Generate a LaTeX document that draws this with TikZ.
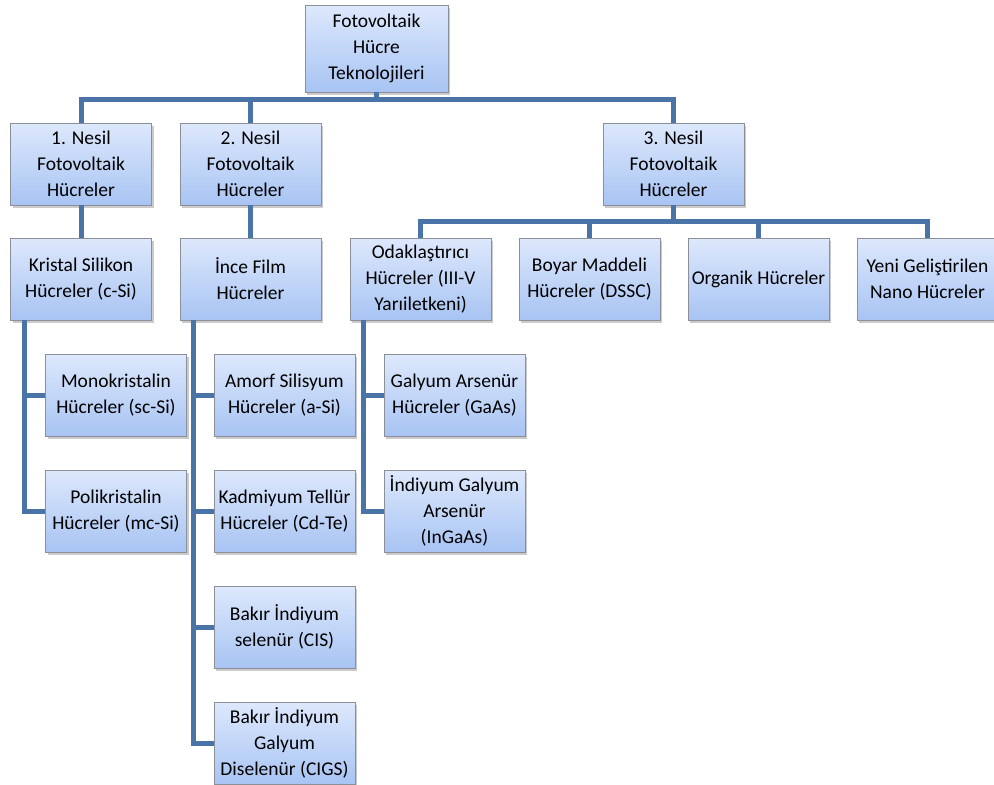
\documentclass[tikz,border=0pt]{standalone}
\usepackage{fontspec}
\setmainfont{Carlito}
\usetikzlibrary{shadows,calc}
\definecolor{linec}{HTML}{4A74A8}
\definecolor{boxtop}{HTML}{DDE8FC}
\definecolor{boxbot}{HTML}{A8C4F3}
\definecolor{boxbd}{HTML}{8A8F98}
\begin{document}
\begin{tikzpicture}[x=1pt,y=-1pt,
  box/.style={draw=boxbd, line width=0.8pt, top color=boxtop, bottom color=boxbot,
    minimum width=141pt, minimum height=82pt, inner sep=1pt, align=center,
    font=\fontsize{19.5}{26}\selectfont,
    drop shadow={opacity=0.35, shadow xshift=2pt, shadow yshift=-3pt, fill=black!60}},
  conn/.style={draw=linec, line width=5pt}]
\useasboundingbox (0,0) rectangle (994,785);
\node[box, minimum width=143pt, minimum height=87pt] (root) at (376.5,48.5) {Fotovoltaik\\Hücre\\Teknolojileri};
\node[box] (g1) at (81,164) {1. Nesil\\Fotovoltaik\\Hücreler};
\node[box] (g2) at (250.5,164) {2. Nesil\\Fotovoltaik\\Hücreler};
\node[box] (g3) at (673.5,164) {3. Nesil\\Fotovoltaik\\Hücreler};
\node[box] (kr) at (81,279) {Kristal Silikon\\Hücreler (c-Si)};
\node[box] (ince) at (250.5,279) {İnce Film\\Hücreler};
\node[box] (odak) at (420.5,279) {Odaklaştırıcı\\Hücreler (III-V\\Yarıiletkeni)};
\node[box] (boyar) at (589.5,279) {Boyar Maddeli\\Hücreler (DSSC)};
\node[box] (org) at (758.5,279) {Organik Hücreler};
\node[box] (yeni) at (927.5,279) {Yeni Geliştirilen\\Nano Hücreler};
\node[box] (mono) at (116,395) {Monokristalin\\Hücreler (sc-Si)};
\node[box] (poli) at (116,511) {Polikristalin\\Hücreler (mc-Si)};
\node[box] (amorf) at (284.5,395) {Amorf Silisyum\\Hücreler (a-Si)};
\node[box] (kad) at (284.5,511) {Kadmiyum Tellür\\Hücreler (Cd-Te)};
\node[box] (cis) at (284.5,627) {Bakır İndiyum\\selenür (CIS)};
\node[box] (cigs) at (284.5,743) {Bakır İndiyum\\Galyum\\Diselenür (CIGS)};
\node[box] (gaas) at (454.5,395) {Galyum Arsenür\\Hücreler (GaAs)};
\node[box] (ingaas) at (454.5,511) {İndiyum Galyum\\Arsenür\\(InGaAs)};
% connectors
\draw[conn] (g1.north) -- ++(0,-23) -| (root.south);
\draw[conn] (g3.north) -- ++(0,-23) -| (root.south);
\draw[conn] (g2.north) -- ++(0,-23);
\draw[conn] (g1.south) -- (kr.north);
\draw[conn] (g2.south) -- (ince.north);
\draw[conn] (odak.north) -- ++(0,-16) -| (g3.south);
\draw[conn] (yeni.north) -- ++(0,-16) -| (g3.south);
\draw[conn] (boyar.north) -- ++(0,-16);
\draw[conn] (org.north) -- ++(0,-16);
\draw[conn] ([xshift=14pt]kr.south west) |- (poli.west);
\draw[conn] ([xshift=14pt]kr.south west) |- (mono.west);
\draw[conn] ([xshift=14pt]ince.south west) |- (cigs.west);
\draw[conn] ([xshift=14pt]ince.south west) |- (amorf.west);
\draw[conn] ([xshift=14pt]ince.south west) |- (kad.west);
\draw[conn] ([xshift=14pt]ince.south west) |- (cis.west);
\draw[conn] ([xshift=14pt]odak.south west) |- (ingaas.west);
\draw[conn] ([xshift=14pt]odak.south west) |- (gaas.west);
\end{tikzpicture}
\end{document}
